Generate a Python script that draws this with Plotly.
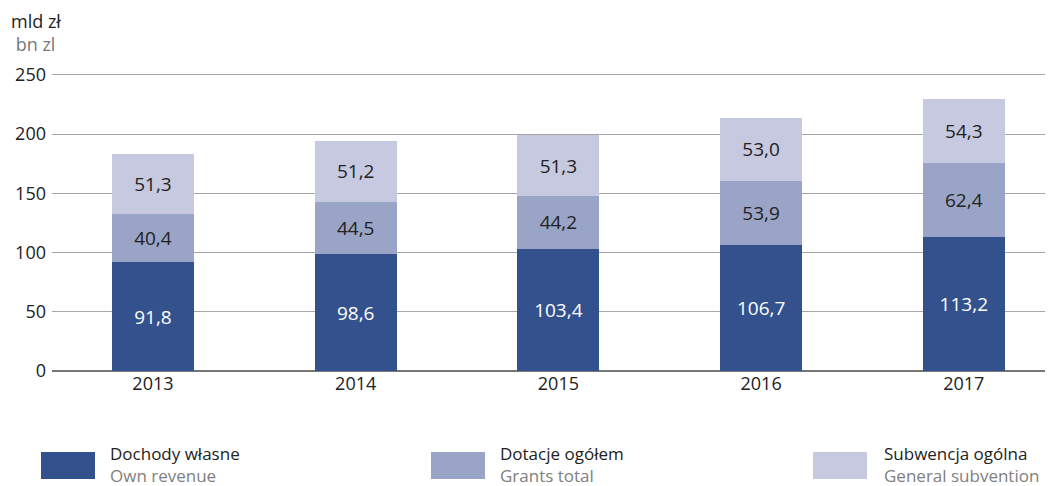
import plotly.graph_objects as go

years = [2013, 2014, 2015, 2016, 2017]
own_revenue = [91.8, 98.6, 103.4, 106.7, 113.2]
grants_total = [40.4, 44.5, 44.2, 53.9, 62.4]
general_subvention = [51.3, 51.2, 51.3, 53.0, 54.3]

names_pl = ["Dochody własne", "Dotacje ogółem", "Subwencja ogólna"]
names_en = ["Own revenue", "Grants total", "General subvention"]
colors = ["#33528d", "#99a4c7", "#c6c9df"]
text_colors = ["white", "#222222", "#222222"]

# page body has an 8px margin, so the figure is drawn 8px in from the window edge
OFF = 8
W, H = 1053 - OFF, 486 - OFF
Y_TOP = 255
L, R = 52 - OFF, 0
B = 486 - 371
T = (371 - Y_TOP * 296 / 250) - OFF


def fmt(v):
    return f"{v:.1f}".replace(".", ",")


def px_x(p):
    # p is in reference-picture pixels
    return (p - OFF - L) / (W - L - R)


def px_y(p):
    return (H - B - (p - OFF)) / (H - T - B)


fig = go.Figure()
for vals, c, tc, n in zip([own_revenue, grants_total, general_subvention], colors, text_colors, names_pl):
    fig.add_trace(go.Bar(x=years, y=vals, name=n, marker=dict(color=c, line=dict(width=0)),
                         width=0.405, text=[fmt(v) for v in vals], textposition="inside",
                         insidetextanchor="middle", textangle=0,
                         textfont=dict(color=tc, size=19, family="Open Sans"),
                         hoverinfo="skip"))

fig.update_layout(
    barmode="stack", width=W, height=H, showlegend=False,
    margin=dict(l=L, r=R, t=T, b=B),
    plot_bgcolor="white", paper_bgcolor="white",
    font=dict(family="Open Sans", size=18, color="#222222"),
    uniformtext=dict(minsize=10, mode="show"),
)
fig.update_xaxes(range=[2012.502, 2017.44], tickvals=years, ticktext=[str(y) for y in years],
                 showgrid=False, zeroline=False, showline=False, ticks="",
                 tickfont=dict(size=18, color="#222222"))
fig.update_yaxes(range=[0, Y_TOP], tickvals=[0, 50, 100, 150, 200, 250], showgrid=True,
                 gridcolor="#a6a6a6", gridwidth=1, zeroline=True, zerolinecolor="#777777",
                 zerolinewidth=1.5, ticks="", ticklabelstandoff=5,
                 tickfont=dict(size=18, color="#222222"))

# unit labels
fig.add_annotation(x=px_x(9), y=px_y(33), xref="paper", yref="paper",
                   text="mld zł<br><span style='color:#777777'>&nbsp;bn zl</span>",
                   showarrow=False, xanchor="left", yanchor="middle", align="left",
                   font=dict(size=18, color="#222222"))

# custom two-language legend
sq_x = [41, 431, 813]
txt_x = [109, 499, 883]
for i in range(3):
    fig.add_shape(type="rect", xref="paper", yref="paper",
                  x0=px_x(sq_x[i]), x1=px_x(sq_x[i] + 54), y0=px_y(479), y1=px_y(452),
                  fillcolor=colors[i], line=dict(width=0))
    fig.add_annotation(x=px_x(txt_x[i]), y=px_y(464), xref="paper", yref="paper",
                       text=f"{names_pl[i]}<br><span style='color:#808080'>{names_en[i]}</span>",
                       showarrow=False, xanchor="left", yanchor="middle", align="left",
                       borderpad=0, font=dict(size=17, color="#222222"))

fig.write_html("out.html")
